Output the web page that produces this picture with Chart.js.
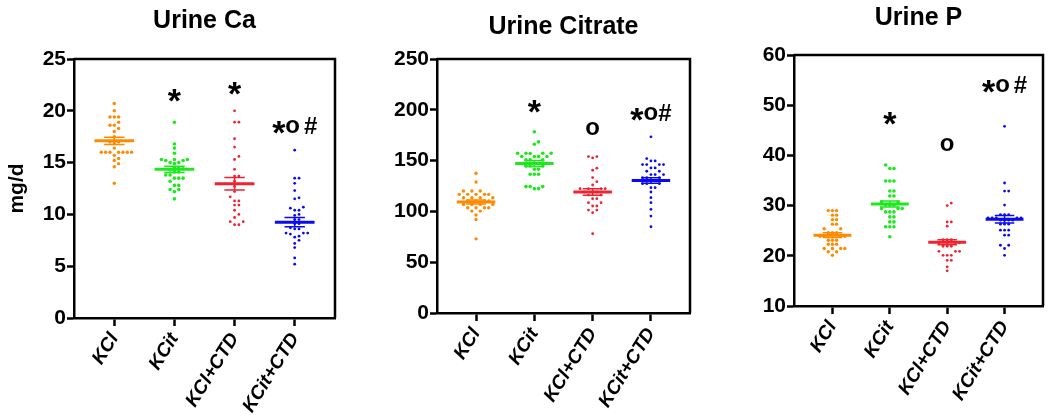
<!DOCTYPE html>
<html>
<head>
<meta charset="utf-8">
<script src="https://cdn.jsdelivr.net/npm/chart.js@4.4.1/dist/chart.umd.min.js"></script>
<style>
  body { margin: 0; background: #fff; width: 1050px; height: 415px; position: relative; overflow: hidden; }
  canvas { position: absolute; top: 0; }
</style>
</head>
<body>
<canvas id="ca" width="350" height="415" style="left:0"></canvas>
<canvas id="cit" width="350" height="415" style="left:350px"></canvas>
<canvas id="p" width="350" height="415" style="left:700px"></canvas>
<script>
const categories = ['KCl', 'KCit', 'KCl+CTD', 'KCit+CTD'];
const colors = ['#ff8a00', '#1de81d', '#f0222e', '#0a0af0'];
const dotRadius = [1.7, 1.8, 1.4, 1.4];

// Urine Ca (mg/d)
const caKCl = [20.7, 20.0, 19.4, 19.4, 19.4, 18.9, 18.6, 18.6, 18.3, 18.0, 17.5, 17.0, 17.0, 16.9, 16.4, 16.0, 16.0, 16.0, 16.0, 16.0, 16.0, 16.0, 15.7, 15.4, 15.2, 14.9, 14.6, 13.0];
const caKCit = [18.9, 16.8, 16.4, 15.9, 15.3, 15.3, 15.2, 15.2, 15.3, 15.0, 15.0, 14.9, 14.5, 14.5, 14.4, 14.3, 14.1, 14.1, 13.8, 13.8, 13.5, 13.5, 13.5, 13.2, 12.8, 12.8, 12.4, 12.4, 12.2, 11.5];
const caKClCTD = [20.0, 18.9, 18.9, 17.3, 16.5, 15.6, 15.3, 14.35, 13.7, 13.7, 13.2, 12.7, 12.2, 11.7, 11.3, 11.3, 10.9, 10.9, 10.4, 10.0, 9.7, 9.3, 9.3, 9.0, 9.0];
const caKCitCTD = [16.2, 13.5, 13.5, 13.0, 12.3, 11.6, 11.5, 10.7, 10.6, 10.4, 10.4, 10.0, 9.9, 9.5, 9.5, 9.1, 9.1, 8.7, 8.6, 8.6, 8.2, 8.2, 8.2, 8.1, 7.9, 7.8, 7.5, 7.2, 6.8, 5.8, 5.2];
const caMean = [17.1, 14.35, 12.95, 9.25];
const caSem = [0.35, 0.3, 0.6, 0.45];
const caTicks = [0, 5, 10, 15, 20, 25];
const caMarks = ['', '*', '*', '*o #'];
const caMarkY = [null, 21.5, 22.1, 18.4];

// Urine Citrate
const citKCl = [137.5, 128.9, 120.1, 120.1, 120.1, 116.8, 116.8, 116.8, 116.8, 116.8, 113.5, 113.5, 113.5, 113.5, 110.2, 110.2, 110.2, 110.2, 106.9, 106.9, 106.9, 106.9, 103.6, 103.6, 103.6, 103.6, 100.3, 100.3, 96.4, 92.1, 73.0];
const citKCit = [178.3, 168.4, 166.1, 157.3, 157.3, 157.3, 157.0, 157.3, 154.0, 154.0, 154.0, 154.0, 150.7, 150.7, 150.7, 147.4, 147.4, 147.4, 144.8, 144.8, 144.8, 141.5, 141.5, 136.5, 136.5, 136.5, 124.4, 124.4, 124.4, 122.4, 122.4];
const citKClCTD = [154.0, 154.0, 152.6, 142.5, 140.5, 133.3, 129.3, 126.0, 122.4, 122.4, 122.4, 122.4, 119.1, 119.1, 119.1, 116.1, 116.1, 112.5, 112.5, 108.6, 108.6, 105.3, 105.3, 101.3, 101.3, 98.7, 78.0];
const citKCitCTD = [173.4, 152.0, 149.7, 149.7, 146.1, 146.1, 146.1, 146.1, 142.8, 142.8, 139.5, 139.5, 136.2, 136.2, 136.2, 133.2, 133.2, 133.2, 130.3, 130.3, 130.3, 130.3, 127.3, 127.3, 127.3, 123.4, 123.4, 119.1, 113.5, 108.6, 102.0, 95.4, 84.9];
const citMean = [109.2, 147.2, 119.2, 130.4];
const citSem = [2.0, 3.0, 3.2, 2.6];
const citTicks = [0, 50, 100, 150, 200, 250];
const citMarks = ['', '*', 'o', '*o#'];
const citMarkY = [null, 202.7, 181, 195.7];

// Urine P
const pKCl = [29.0, 29.0, 29.0, 28.1, 28.1, 27.2, 27.2, 26.3, 26.3, 25.4, 25.4, 24.6, 24.6, 24.6, 23.9, 23.9, 23.9, 23.9, 23.1, 23.1, 23.1, 22.3, 22.3, 22.3, 21.45, 21.45, 21.45, 21.45, 20.8, 20.8, 20.1];
const pKCit = [38.1, 37.4, 37.4, 34.9, 34.9, 34.9, 32.9, 32.9, 31.9, 31.9, 30.7, 30.7, 30.1, 30.1, 30.1, 29.4, 29.4, 29.4, 28.75, 28.75, 28.75, 27.75, 27.75, 26.75, 26.75, 25.8, 25.8, 25.8, 23.8];
const pKClCTD = [30.5, 30.0, 26.75, 26.75, 25.9, 23.2, 23.2, 23.2, 22.6, 22.6, 22.6, 21.9, 21.9, 21.9, 20.9, 20.9, 20.9, 20.1, 20.1, 20.1, 19.1, 19.1, 17.8, 17.0];
const pKCitCTD = [45.8, 34.5, 32.9, 32.9, 30.1, 28.2, 28.2, 28.2, 27.55, 27.55, 27.55, 27.55, 27.55, 27.1, 27.1, 27.1, 27.1, 26.3, 26.3, 26.3, 25.1, 25.1, 25.1, 24.1, 24.1, 22.1, 22.1, 21.45, 20.1];
const pMean = [24.1, 30.3, 22.7, 27.3];
const pSem = [0.47, 0.6, 0.5, 0.75];
const pTicks = [10, 20, 30, 40, 50, 60];
const pMarks = ['', '*', 'o', '*o #'];
const pMarkY = [null, 47.4, 42, 53.7];

const FONT = '"Liberation Sans", Arial, sans-serif';

// simple beeswarm: spread points with similar values sideways
function swarm(vals, center, yTol, step) {
  const placed = [];
  return vals.slice().sort((a, b) => a - b).map(v => {
    for (let k = 0; k < 40; k++) {
      const off = k === 0 ? 0 : (k % 2 ? 1 : -1) * Math.ceil(k / 2) * step;
      const hit = placed.some(p => Math.abs(p.y - v) < yTol && Math.abs(p.dx - off) < step * 0.9);
      if (!hit) { placed.push({ y: v, dx: off }); return { x: center + off, y: v }; }
    }
    return { x: center, y: v };
  });
}

function meanLine(i, m) {
  return [{ x: i - 0.33, y: m }, { x: i + 0.33, y: m }];
}
function semLines(i, m, s) {
  const w = 0.17;
  return [
    { x: i - w, y: m + s }, { x: i + w, y: m + s }, { x: i, y: null },
    { x: i - w, y: m - s }, { x: i + w, y: m - s }, { x: i, y: null },
    { x: i, y: m + s }, { x: i, y: m - s }
  ];
}

function drawMark(ctx, text, x, y) {
  const parts = text.split('').map(c => {
    if (c === '*') return { c, size: 34, dy: 7 };
    if (c === 'o') return { c, size: 24, dy: -1 };
    if (c === '#') return { c, size: 24, dy: 0 };
    return { c, size: 14, dy: 0 };
  });
  let total = 0;
  parts.forEach(p => { ctx.font = 'bold ' + p.size + 'px ' + FONT; p.w = ctx.measureText(p.c).width; total += p.w; });
  let cx = x - total / 2;
  ctx.textAlign = 'left';
  ctx.textBaseline = 'middle';
  parts.forEach(p => {
    ctx.font = 'bold ' + p.size + 'px ' + FONT;
    ctx.fillText(p.c, cx, y + p.dy);
    cx += p.w;
  });
}

function makePanel(id, cfg) {
  const yMin = cfg.ticks[0], yMax = cfg.ticks[cfg.ticks.length - 1];
  const datasets = [];
  cfg.groups.forEach((vals, i) => {
    datasets.push({ type: 'line', data: meanLine(i, cfg.mean[i]), borderColor: colors[i], borderWidth: 3, pointRadius: 0, order: 0 });
    datasets.push({ type: 'line', data: semLines(i, cfg.mean[i], cfg.sem[i]), borderColor: colors[i], borderWidth: 1.5, pointRadius: 0, spanGaps: false, order: 0 });
    datasets.push({ type: 'scatter', data: swarm(vals, i, (yMax - yMin) * 0.016, 0.072), backgroundColor: colors[i], borderWidth: 0, pointRadius: dotRadius[i], order: 1 });
  });

  const decor = {
    id: 'decor',
    afterDraw(chart) {
      const { ctx, chartArea: a, scales } = chart;
      ctx.save();
      ctx.strokeStyle = '#000';
      ctx.lineWidth = 2.5;
      ctx.beginPath();
      ctx.moveTo(a.left, a.top);
      ctx.lineTo(a.right, a.top);
      ctx.lineTo(a.right, a.bottom);
      ctx.stroke();
      ctx.fillStyle = '#000';
      ctx.font = 'bold 25px ' + FONT;
      ctx.textAlign = 'center';
      ctx.textBaseline = 'middle';
      ctx.fillText(cfg.title, (a.left + a.right) / 2, a.top - cfg.titleGap);
      cfg.marks.forEach((m, i) => {
        if (!m) return;
        drawMark(ctx, m, scales.x.getPixelForValue(i), scales.y.getPixelForValue(cfg.markY[i]));
      });
      ctx.restore();
    }
  };

  new Chart(document.getElementById(id), {
    type: 'scatter',
    data: { datasets },
    options: {
      responsive: false,
      animation: false,
      layout: { padding: { top: cfg.top, right: cfg.right, left: 0, bottom: 0 } },
      plugins: { legend: { display: false }, tooltip: { enabled: false } },
      scales: {
        x: {
          type: 'linear',
          min: -0.67,
          max: 3.67,
          afterBuildTicks: s => { s.ticks = categories.map((c, i) => ({ value: i })); },
          afterFit: s => { s.height = cfg.xh; },
          ticks: {
            callback: v => categories[v],
            minRotation: 58,
            maxRotation: 58,
            autoSkip: false,
            color: '#000',
            padding: 3,
            font: { family: FONT, size: 19, weight: 'bold', style: 'italic' }
          },
          grid: { drawOnChartArea: false, tickLength: 8, tickWidth: 2.5, tickColor: '#000' },
          border: { color: '#000', width: 2.5 }
        },
        y: {
          type: 'linear',
          min: yMin,
          max: yMax,
          afterBuildTicks: s => { s.ticks = cfg.ticks.map(v => ({ value: v })); },
          afterFit: s => { s.width = cfg.yw; },
          ticks: { color: '#000', padding: 1, font: { family: FONT, size: 21, weight: 'bold' } },
          grid: { drawOnChartArea: false, tickLength: 7, tickWidth: 2.5, tickColor: '#000' },
          border: { color: '#000', width: 2.5 },
          title: {
            display: !!cfg.yTitle,
            text: cfg.yTitle,
            color: '#000',
            padding: { top: 5, bottom: 0 },
            font: { family: FONT, size: 21, weight: 'bold' }
          }
        }
      }
    },
    plugins: [decor]
  });
}

makePanel('ca', {
  title: 'Urine Ca', titleGap: 38, yTitle: 'mg/d',
  groups: [caKCl, caKCit, caKClCTD, caKCitCTD], mean: caMean, sem: caSem,
  ticks: caTicks, marks: caMarks, markY: caMarkY,
  top: 59, right: 15, yw: 74, xh: 97
});
makePanel('cit', {
  title: 'Urine Citrate', titleGap: 32,
  groups: [citKCl, citKCit, citKClCTD, citKCitCTD], mean: citMean, sem: citSem,
  ticks: citTicks, marks: citMarks, markY: citMarkY,
  top: 59, right: 10, yw: 87, xh: 102
});
makePanel('p', {
  title: 'Urine P', titleGap: 37,
  groups: [pKCl, pKCit, pKClCTD, pKCitCTD], mean: pMean, sem: pSem,
  ticks: pTicks, marks: pMarks, markY: pMarkY,
  top: 55, right: 7, yw: 94, xh: 109
});
</script>
</body>
</html>
